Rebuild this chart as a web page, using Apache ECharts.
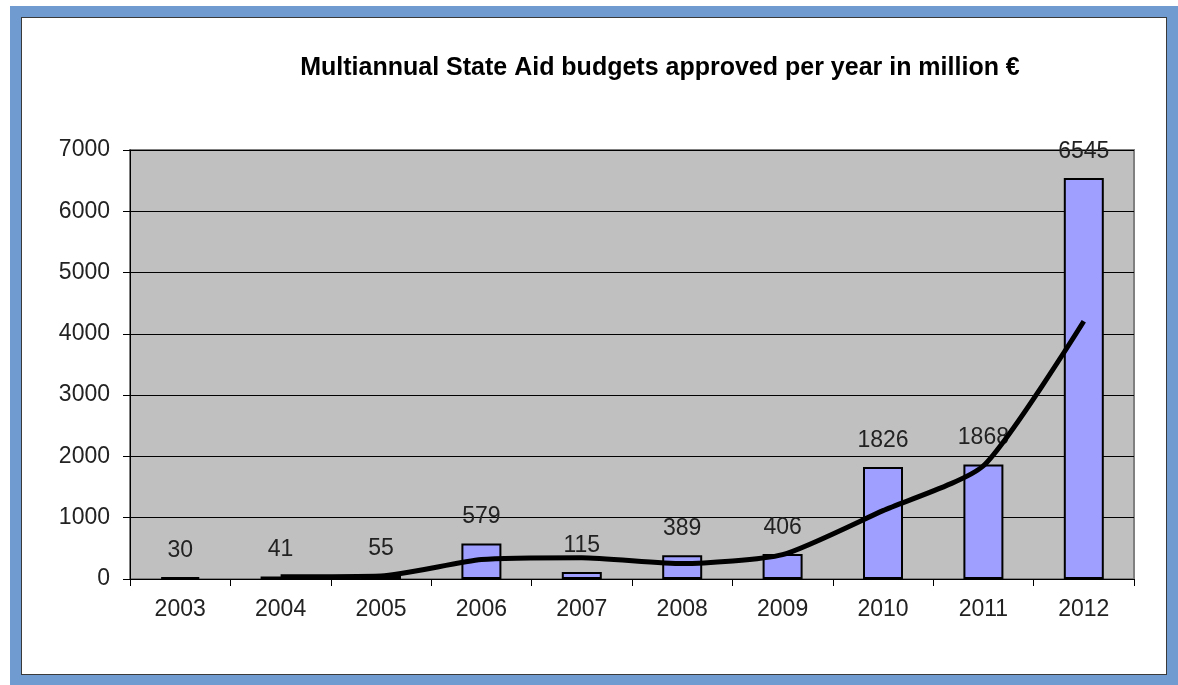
<!DOCTYPE html>
<html>
<head>
<meta charset="utf-8">
<script src="https://cdn.jsdelivr.net/npm/echarts@6/dist/echarts.min.js"></script>
<style>
  html, body { margin: 0; padding: 0; background: #fff; }
  #frame {
    position: absolute; left: 10px; top: 6px; width: 1168px; height: 679px;
    background: #6f9bd0; box-sizing: border-box;
  }
  #panel {
    position: absolute; left: 11px; top: 11px; width: 1146px; height: 658px;
    background: #fff; border: 1px solid #3a3a3a; box-sizing: border-box;
  }
  #chart { position: absolute; left: 0; top: 0; width: 1178px; height: 685px; }
</style>
</head>
<body>
<div id="frame"><div id="panel"></div></div>
<div id="chart"></div>
<script>
'use strict';
const years = ["2003", "2004", "2005", "2006", "2007", "2008", "2009", "2010", "2011", "2012"];
const budgets = [30, 41, 55, 579, 115, 389, 406, 1826, 1868, 6545];
// trend line (2 year moving average)
const trend = [null, 35.5, 48, 317, 347, 252, 397.5, 1116, 1847, 4206.5];
const yTicks = [0, 1000, 2000, 3000, 4000, 5000, 6000, 7000];

const myChart = echarts.init(document.getElementById('chart'));

const font = "Arial, 'Liberation Sans', sans-serif";

let option = {
    backgroundColor: 'transparent',
    animation: false,
    title: {
        text: 'Multiannual State Aid budgets approved per year in million €',
        left: 655,
        top: 51,
        textAlign: 'center',
        textStyle: {
            fontFamily: font,
            fontWeight: 'bold',
            fontSize: 25,
            color: '#000'
        }
    },
    grid: {
        left: 130,
        right: 44,
        top: 150,
        bottom: 106,
        show: true,
        backgroundColor: '#c0c0c0',
        borderColor: '#808080',
        borderWidth: 2
    },
    xAxis: {
        type: 'category',
        data: years,
        axisLine: { lineStyle: { color: '#000', width: 1 } },
        axisTick: { show: true, length: 7, lineStyle: { color: '#000' } },
        axisLabel: { fontFamily: font, fontSize: 23, color: '#222', margin: 19 }
    },
    yAxis: {
        type: 'value',
        min: yTicks[0],
        max: yTicks[yTicks.length - 1],
        interval: 1000,
        axisLine: { show: true, lineStyle: { color: '#000', width: 1 } },
        axisTick: { show: true, length: 7, lineStyle: { color: '#000' } },
        splitLine: { lineStyle: { color: '#000', width: 1 } },
        axisLabel: {
            fontFamily: font, fontSize: 23, color: '#222', margin: 20,
            formatter: v => String(v)
        }
    },
    series: [{
        type: 'bar',
        data: budgets,
        barWidth: 40,
        itemStyle: { color: '#9f9fff', borderColor: '#000', borderWidth: 2 },
        label: {
            show: true,
            position: 'top',
            distance: 15,
            fontFamily: font,
            fontSize: 23,
            color: '#222'
        }
    }, {
        type: 'line',
        data: trend,
        smooth: 0.2,
        showSymbol: false,
        symbol: 'none',
        lineStyle: { color: '#000', width: 5 },
        z: 5
    }]
};

myChart.setOption(option, true);
</script>
</body>
</html>
